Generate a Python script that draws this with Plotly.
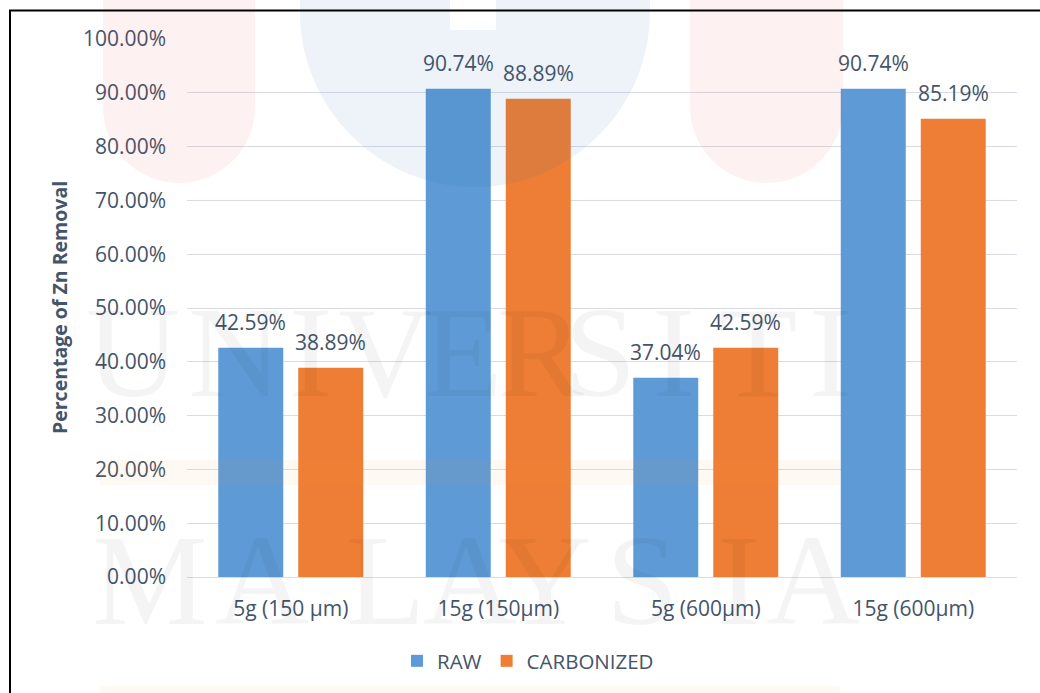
import plotly.graph_objects as go

# Zn removal results by adsorbent dose and particle size
categories = ["5g (150 µm)", "15g (150µm)", "5g (600µm)", "15g (600µm)"]
raw_values = [0.4259, 0.9074, 0.3704, 0.9074]
carbonized_values = [0.3889, 0.8889, 0.4259, 0.8519]
series_names = ["RAW", "CARBONIZED"]
y_ticks = [i / 10 for i in range(11)]

W, H = 1040, 693
L, R, T, B = 187, 1017, 39, 577  # plot area in pixels
TEXT = "#44546A"
FONT = "Open Sans"
BLUE = "#5E9BD6"
ORANGE = "#EE7E35"


def px(x):
    return (x - L) / (R - L)


def py(y):
    return (B - y) / (B - T)


fig = go.Figure()
fig.add_trace(go.Bar(name=series_names[0], x=categories, y=raw_values,
                     marker=dict(color=BLUE, line=dict(width=0))))
fig.add_trace(go.Bar(name=series_names[1], x=categories, y=carbonized_values,
                     marker=dict(color=ORANGE, line=dict(width=0))))

annotations = []
# value labels above each bar
for vals, shift in ((raw_values, -40), (carbonized_values, 40)):
    for cat, v in zip(categories, vals):
        annotations.append(dict(
            x=cat, y=v, xref="x", yref="y", text=f"{v * 100:.2f}%",
            showarrow=False, xshift=shift, yshift=10, yanchor="bottom",
            font=dict(family=FONT, size=21, color=TEXT)))

# axis title
annotations.append(dict(
    x=px(59), y=py(308), xref="paper", yref="paper",
    text="<b>Percentage of Zn Removal</b>", textangle=-90, showarrow=False,
    xanchor="center", yanchor="middle",
    font=dict(family=FONT, size=19.5, color=TEXT)))

# background watermark lettering
wm_font = dict(family="Liberation Serif", size=130, color="rgba(0,0,0,0.045)")
for ch, cx in zip("UNIVERSITI", [133, 235, 310, 385, 462, 540, 600, 673, 757, 830]):
    annotations.append(dict(x=px(cx), y=py(352), xref="paper", yref="paper",
                            text=ch, showarrow=False, font=wm_font,
                            xanchor="center", yanchor="middle"))
for ch, cx in zip("MALAYSIA", [150, 262, 385, 470, 545, 642, 738, 813]):
    annotations.append(dict(x=px(cx), y=py(580), xref="paper", yref="paper",
                            text=ch, showarrow=False, font=wm_font,
                            xanchor="center", yanchor="middle"))


def pillar(x0, x1, bottom, color):
    r = (x1 - x0) / 2
    k = 0.55 * r
    path = (f"M {px(x0)},{py(-20)} L {px(x0)},{py(bottom - r)} "
            f"C {px(x0)},{py(bottom - r + k)} {px(x0 + r - k)},{py(bottom)} {px(x0 + r)},{py(bottom)} "
            f"C {px(x0 + r + k)},{py(bottom)} {px(x1)},{py(bottom - r + k)} {px(x1)},{py(bottom - r)} "
            f"L {px(x1)},{py(-20)} Z")
    return dict(type="path", xref="paper", yref="paper", path=path,
                fillcolor=color, line=dict(width=0), layer="above")


PINK = "rgba(220,40,40,0.065)"
LIGHTBLUE = "rgba(30,100,170,0.08)"
shapes = [
    pillar(103, 255, 183, PINK),
    pillar(690, 843, 183, PINK),
]
# U-shaped emblem with a narrow gap at the top
outer_r = (650 - 300) / 2
k = 0.55 * outer_r
u_path = (f"M {px(300)},{py(-20)} L {px(300)},{py(187 - outer_r)} "
          f"C {px(300)},{py(187 - outer_r + k)} {px(475 - k)},{py(187)} {px(475)},{py(187)} "
          f"C {px(475 + k)},{py(187)} {px(650)},{py(187 - outer_r + k)} {px(650)},{py(187 - outer_r)} "
          f"L {px(650)},{py(-20)} L {px(496)},{py(-20)} L {px(496)},{py(30)} "
          f"L {px(450)},{py(30)} L {px(450)},{py(-20)} Z")
shapes.append(dict(type="path", xref="paper", yref="paper", path=u_path,
                   fillcolor=LIGHTBLUE, line=dict(width=0), layer="above"))
# faint horizontal bands
for y0, y1 in ((460, 485), (686, 700)):
    shapes.append(dict(type="rect", xref="paper", yref="paper",
                       x0=px(100), x1=px(840), y0=py(y0), y1=py(y1),
                       fillcolor="rgba(255,150,50,0.06)", line=dict(width=0),
                       layer="above"))
# outer frame
shapes.append(dict(type="rect", xref="paper", yref="paper",
                   x0=px(10), x1=px(1060), y0=py(10.5), y1=py(720),
                   line=dict(color="black", width=2), fillcolor="rgba(0,0,0,0)",
                   layer="above"))

fig.update_layout(
    width=W, height=H,
    margin=dict(l=L, r=W - R, t=T, b=H - B, autoexpand=False),
    paper_bgcolor="white", plot_bgcolor="rgba(0,0,0,0)",
    barmode="group", bargap=0.229, bargroupgap=0.1875,
    font=dict(family=FONT, size=20, color=TEXT),
    showlegend=True,
    legend=dict(orientation="h", x=px(528), y=py(661), xanchor="center",
                yanchor="middle", font=dict(family=FONT, size=20.5, color=TEXT),
                itemwidth=30, bgcolor="rgba(0,0,0,0)"),
    annotations=annotations,
    shapes=shapes,
)
fig.update_yaxes(range=[0, 1], tickvals=y_ticks, tickformat=".2%",
                 showgrid=True, gridcolor="#D9DDE3", gridwidth=1,
                 zeroline=False, showline=False, ticks="",
                 ticklabelstandoff=20,
                 tickfont=dict(family=FONT, size=21, color=TEXT))
fig.update_xaxes(showgrid=False, zeroline=False, showline=True,
                 linecolor="#D9DDE3", linewidth=1, ticks="",
                 ticklabelstandoff=13,
                 tickfont=dict(family=FONT, size=21, color=TEXT))

fig.write_html("out.html")
